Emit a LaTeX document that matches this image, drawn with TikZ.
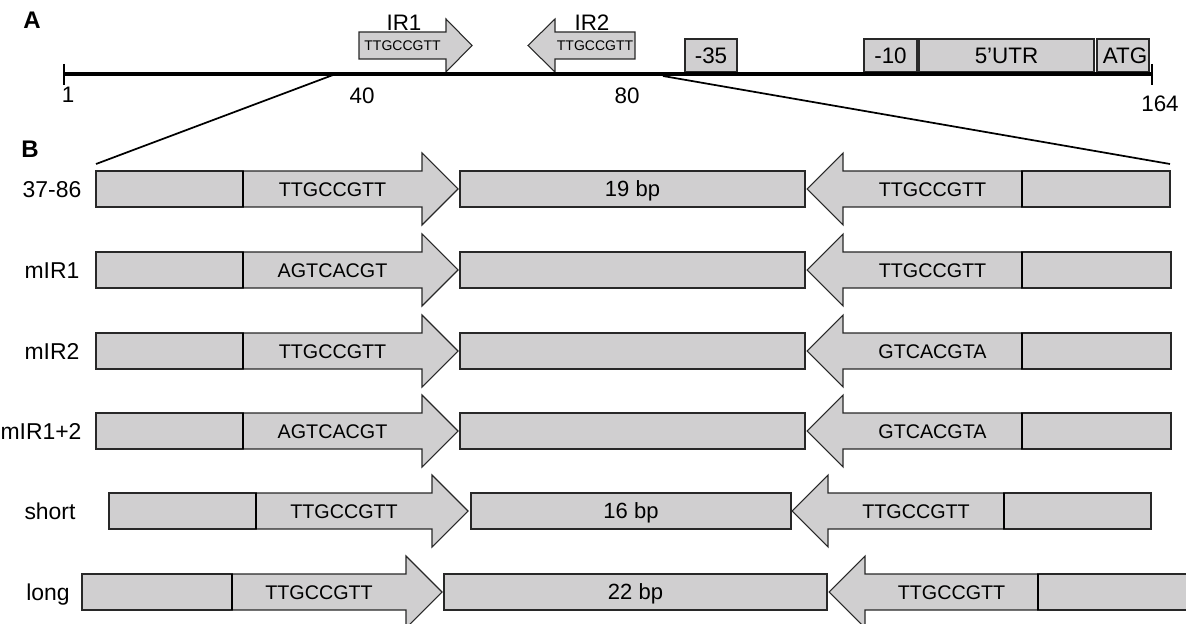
\documentclass[tikz,border=0pt]{standalone}
\usepackage{fontspec}
\setmainfont{Liberation Sans}
\definecolor{boxfill}{RGB}{208,207,208}
\definecolor{edge}{RGB}{40,40,40}
\begin{document}
\begin{tikzpicture}[x=0.75pt,y=-0.75pt,
  seg/.style={fill=boxfill,draw=edge,line width=0.8pt,line join=miter},
  divider/.style={line width=1.8pt,black},
  txt/.style={inner sep=0pt,text depth=0pt},
  lab/.style={txt,text height=11.8pt,font=\fontsize{16.5}{18}\selectfont},
  rowlab/.style={txt,text height=12.3pt,font=\fontsize{17.2}{19}\selectfont},
  toplab/.style={txt,text height=12pt,font=\fontsize{16.8}{18}\selectfont},
  seqtxt/.style={txt,text height=10.6pt,font=\fontsize{14.8}{16}\selectfont},
  smalltxt/.style={txt,text height=7.5pt,font=\fontsize{10.5}{12}\selectfont},
  panel/.style={txt,text height=12.9pt,font=\fontsize{18}{20}\selectfont\bfseries},
  zoomline/.style={line width=1.3pt,black}]
\useasboundingbox (0,0) rectangle (1186,624);

% ---------- panel A ----------
\node[panel] (pA) at (32,20) {A};

% promoter elements
\draw[seg] (685,39) rectangle (737,72);
\node[toplab] (m35) at (711,55.5) {-35};
\draw[seg] (864,39) rectangle (917,72);
\node[toplab] (m10) at (890.5,55.5) {-10};
\draw[seg] (919,39) rectangle (1094,72);
\node[toplab] (utr) at (1006.5,55.5) {5’UTR};
\draw[seg] (1097,39) rectangle (1149,72);
\node[toplab] (atg) at (1125,55.5) {ATG};

% IR1 / IR2 arrows
\draw[seg] (359,32) -- (446,32) -- (446,19) -- (472,45.5) -- (446,72) -- (446,59) -- (359,59) -- cycle;
\node[smalltxt] (ir1s) at (402.5,45.5) {TTGCCGTT};
\node[toplab] (ir1) at (404,23) {IR1};
\draw[seg] (635,32) -- (555,32) -- (555,19) -- (528,45.5) -- (555,72) -- (555,59) -- (635,59) -- cycle;
\node[smalltxt] (ir2s) at (595,45.5) {TTGCCGTT};
\node[toplab] (ir2) at (592,23) {IR2};

% main line with ticks
\coordinate (ls) at (64,74);
\coordinate (le) at (1152,74);
\draw[line width=2.6pt] (ls) -- (le);
\draw[line width=2.2pt] (64,64) -- (64,85);
\draw[line width=2.2pt] (1152,64) -- (1152,85);

\node[toplab] (n1) at (68,95) {1};
\node[toplab] (n40) at (362,96) {40};
\node[toplab] (n80) at (627,96) {80};
\node[toplab] (n164) at (1160,104) {164};

% zoom lines
\coordinate (z1) at (333,75);
\coordinate (z2) at (96,164);
\coordinate (z3) at (663,76);
\coordinate (z4) at (1170,164);
\draw[zoomline] (z1) -- (z2);
\draw[zoomline] (z3) -- (z4);

% ---------- panel B ----------
\node[panel] (pB) at (30,149) {B};

\foreach \n/\yc/\L/\Da/\Ha/\Ta/\Ma/\Mb/\Tb/\Hb/\Db/\R/\lx/\lt/\sa/\sb/\mt in {
  r1/189/96/243/422/458/460/805/807/843/1022/1170/52/37-86/TTGCCGTT/TTGCCGTT/19 bp,
  r2/270/96/243/422/458/460/805/807/843/1022/1171/52/mIR1/AGTCACGT/TTGCCGTT/{},
  r3/351/96/243/422/458/460/805/807/843/1022/1171/52/mIR2/TTGCCGTT/GTCACGTA/{},
  r4/431/96/243/422/458/460/805/807/843/1022/1171/41/mIR1+2/AGTCACGT/GTCACGTA/{},
  r5/511/109/256/432/468/471/791/792/828/1004/1151/50/short/TTGCCGTT/TTGCCGTT/16 bp,
  r6/592/82/232/406/442/444/827/829/865/1038/1188/48/long/TTGCCGTT/TTGCCGTT/22 bp}{
  \draw[seg] (\L,\yc-18) rectangle (\Da,\yc+18);
  \draw[seg] (\Da,\yc-18) -- (\Ha,\yc-18) -- (\Ha,\yc-36) -- (\Ta,\yc) -- (\Ha,\yc+36) -- (\Ha,\yc+18) -- (\Da,\yc+18) -- cycle;
  \draw[seg] (\Ma,\yc-18) rectangle (\Mb,\yc+18);
  \draw[seg] (\Db,\yc-18) -- (\Hb,\yc-18) -- (\Hb,\yc-36) -- (\Tb,\yc) -- (\Hb,\yc+36) -- (\Hb,\yc+18) -- (\Db,\yc+18) -- cycle;
  \draw[seg] (\Db,\yc-18) rectangle (\R,\yc+18);
  \draw[divider] (\Da,\yc-18) -- (\Da,\yc+18);
  \draw[divider] (\Db,\yc-18) -- (\Db,\yc+18);
  \node[seqtxt] (\n-a) at ({(\Da+\Ha)/2},\yc) {\sa};
  \node[seqtxt] (\n-b) at ({(\Hb+\Db)/2},\yc) {\sb};
  \node[lab] (\n-m) at ({(\Ma+\Mb)/2},\yc) {\mt};
  \node[rowlab] (\n-l) at (\lx,\yc) {\lt};
}
\end{tikzpicture}
\end{document}
